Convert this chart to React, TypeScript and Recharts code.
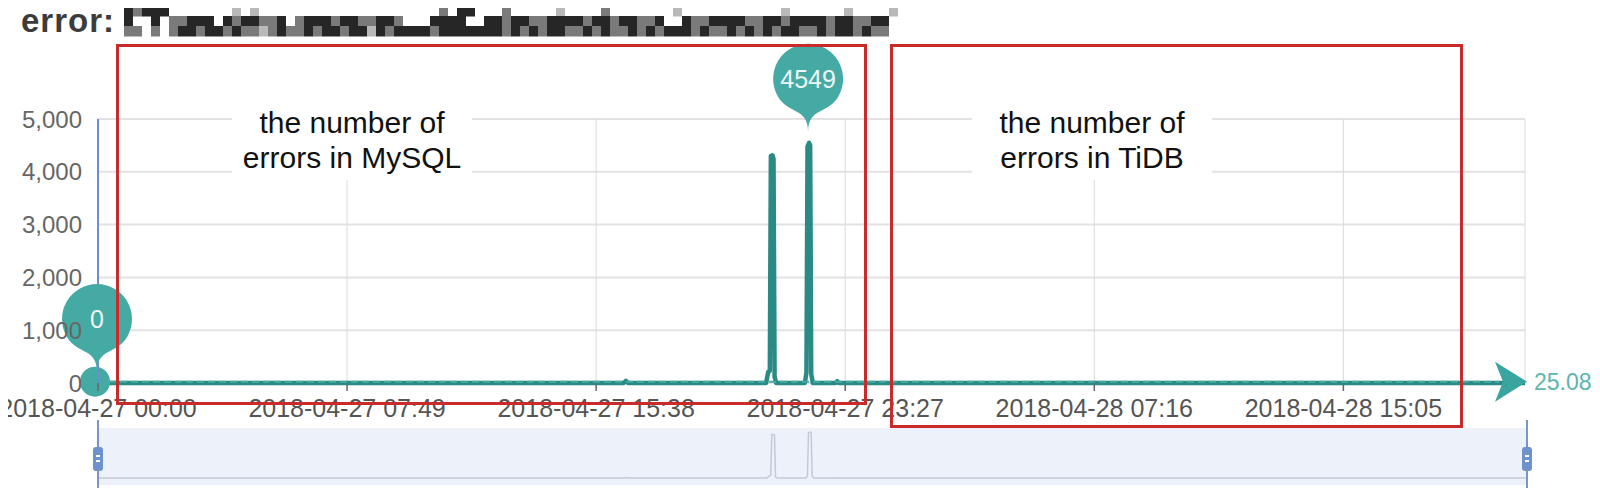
import React from 'react';
import { ComposedChart, LineChart, Line, XAxis, YAxis, CartesianGrid, ReferenceLine, ReferenceDot } from 'recharts';

// minutes after 2018-04-27 00:00
const errorTimes = [0, 180, 420, 700, 990, 994, 998, 1150, 1258, 1262, 1265, 1267, 1270, 1272, 1274, 1277, 1331, 1334, 1336, 1339, 1341, 1343, 1346, 1389, 1392, 1395, 1500, 1800, 2100, 2400, 2687];
const errorCounts = [0, 0, 0, 0, 0, 40, 0, 0, 0, 210, 230, 4300, 4310, 4250, 120, 0, 0, 200, 4480, 4549, 4500, 170, 0, 0, 35, 0, 0, 0, 0, 0, 0];

const xTicks = [0, 469, 938, 1407, 1876, 2345];
const xTickLabels = ['2018-04-27 00:00', '2018-04-27 07:49', '2018-04-27 15:38', '2018-04-27 23:27', '2018-04-28 07:16', '2018-04-28 15:05'];
const yTicks = [0, 1000, 2000, 3000, 4000, 5000];
const avgErrors = 25.08;
const timeEnd = 2687;

const data = errorTimes.map((t, i) => ({ t, errors: errorCounts[i] }));

const FONT = '"Liberation Sans", Arial, sans-serif';
const TEAL = '#45aaa4';

// redacted part of the title, drawn as mosaic (0 empty .. 3 dark)
const mosaicTop = '32333000000010100000000000000000000203300020000010000200000001000000000001000000100001';
const mosaicMid = '30030223330323322302333233223320003333003323322333323323322300322333322332333323322330';
const mosaicBot = '22020233233232212322323323313233332333333323232332232322323233323223232323322323323220';
const shades = ['none', '#b9b9b9', '#7a7a7a', '#262626'];

const maxIdx = errorCounts.indexOf(Math.max(...errorCounts));
const minIdx = errorCounts.indexOf(Math.min(...errorCounts));

// echarts-like pin, tip at (x, ty)
const pinPath = (x: number, ty: number) => {
  const r = 35, h = 105.4;
  const dy = (r * r) / (h - r);
  const cy = ty - h + r + dy;
  const a = Math.asin(dy / r);
  const dx = Math.cos(a) * r;
  const tx = Math.sin(a), tyy = Math.cos(a);
  const c1 = r * 0.6, c2 = r * 0.7;
  return {
    d: `M${x - dx},${cy + dy} A${r},${r} 0 1 1 ${x + dx},${cy + dy} ` +
      `C${x + dx - tx * c1},${cy + dy + tyy * c1} ${x},${ty - c2} ${x},${ty} ` +
      `C${x},${ty - c2} ${x - dx + tx * c1},${cy + dy + tyy * c1} ${x - dx},${cy + dy} Z`,
    cy,
  };
};

const pinShape = (label: string) => (p: any) => {
  const { d, cy } = pinPath(p.cx - 1, p.cy - 11);
  return (
    <g>
      <path d={d} fill={TEAL} />
      <text x={p.cx - 1} y={cy} textAnchor="middle" dominantBaseline="central" fill="#eef8f7" fontSize={25} fontFamily={FONT}>{label}</text>
    </g>
  );
};

const avgLineShape = (p: any) => {
  const { x1, y1, x2 } = p;
  return (
    <g>
      <line x1={x1} y1={y1} x2={x2 - 26} y2={y1} stroke={TEAL} strokeWidth={2} strokeDasharray="7 4" />
      <circle cx={x1 - 3} cy={y1} r={15} fill={TEAL} />
      <polygon points={`${x2 + 2},${y1} ${x2 - 30},${y1 - 20} ${x2 - 22},${y1} ${x2 - 30},${y1 + 20}`} fill="#3aa59f" />
      <text x={x2 + 9} y={y1} dominantBaseline="central" fill="#5db5af" fontSize={23} fontFamily={FONT}>{avgErrors}</text>
    </g>
  );
};

const Note = ({ left, lines }: { left: number; lines: string[] }) => (
  <div style={{ position: 'absolute', left, top: 100, width: 240, height: 80, background: '#fff', display: 'flex', flexDirection: 'column', alignItems: 'center', justifyContent: 'center', fontFamily: FONT, fontSize: 30, lineHeight: '35px', color: '#111' }}>
    {lines.map((l) => <div key={l}>{l}</div>)}
  </div>
);

const Handle = ({ left }: { left: number }) => (
  <>
    <div style={{ position: 'absolute', left: left - 1, top: 420, width: 2, height: 72, background: '#7896c8' }} />
    <div style={{ position: 'absolute', left: left - 5, top: 447, width: 10, height: 24, borderRadius: 3, background: '#6e92cc' }}>
      <div style={{ position: 'absolute', left: 3, top: 8, width: 4, height: 2, background: '#fff' }} />
      <div style={{ position: 'absolute', left: 3, top: 13, width: 4, height: 2, background: '#fff' }} />
    </div>
  </>
);

export default function App() {
  return (
    <div style={{ position: 'relative', width: 1600, height: 496, margin: -8, background: '#fff', overflow: 'hidden' }}>
      <div style={{ position: 'absolute', left: 0, top: 0 }}>
        <ComposedChart width={1600} height={496} data={data} margin={{ top: 119, right: 75, bottom: 83, left: 38 }}>
          <CartesianGrid
            horizontal={(p: any) => <line key={p.key} x1={p.x1} y1={p.y1} x2={p.x2} y2={p.y2} stroke="#e2e2e2" strokeWidth={2} />}
            vertical={(p: any) => <line key={p.key} x1={p.x1} y1={p.y1} x2={p.x2} y2={p.y2} stroke="#dadada" strokeWidth={1} />}
          />
          <XAxis type="number" dataKey="t" domain={[0, timeEnd]} ticks={xTicks} interval={0}
            tickFormatter={(v: number) => xTickLabels[xTicks.indexOf(v)]}
            axisLine={false} tickSize={8} tickMargin={8} tickLine={{ stroke: '#666', strokeWidth: 1.5 }}
            tick={{ fill: '#555', fontSize: 25, fontFamily: FONT }} height={30} />
          <YAxis type="number" domain={[0, 5000]} ticks={yTicks} interval={0} width={60}
            tickFormatter={(v: number) => v.toLocaleString('en-US')}
            axisLine={{ stroke: '#6a8fcb', strokeWidth: 2 }} tickLine={false} tickSize={0} tickMargin={16}
            tick={{ fill: '#666', fontSize: 24, fontFamily: FONT }} />
          <Line type="linear" dataKey="errors" stroke="#2a8a85" strokeWidth={4.5} strokeLinejoin="round" dot={false} isAnimationActive={false} />
          <ReferenceLine y={avgErrors} shape={avgLineShape} />
          <ReferenceDot x={errorTimes[minIdx]} y={errorCounts[minIdx]} ifOverflow="visible" shape={pinShape(String(errorCounts[minIdx]))} />
          <ReferenceDot x={errorTimes[maxIdx]} y={errorCounts[maxIdx]} ifOverflow="visible" shape={pinShape(String(errorCounts[maxIdx]))} />
        </ComposedChart>
      </div>

      {/* data zoom slider */}
      <div style={{ position: 'absolute', left: 98, top: 428, width: 1429, height: 57, background: '#edf2fa' }} />
      <div style={{ position: 'absolute', left: 0, top: 428 }}>
        <LineChart width={1600} height={57} data={data} margin={{ top: 4, right: 73, bottom: 7, left: 98 }}>
          <XAxis type="number" dataKey="t" domain={[0, timeEnd]} hide />
          <YAxis domain={[0, 4549]} hide />
          <Line type="linear" dataKey="errors" stroke="#c3cad6" strokeWidth={1.5} dot={false} isAnimationActive={false} />
        </LineChart>
      </div>
      <Handle left={98} />
      <Handle left={1527} />

      {/* title */}
      <div style={{ position: 'absolute', left: 21, top: 2, fontFamily: FONT, fontSize: 33, fontWeight: 'bold', letterSpacing: 1, color: '#3c3c3c' }}>error:</div>
      <svg style={{ position: 'absolute', left: 124, top: 6 }} width={780} height={31}>
        {[mosaicTop, mosaicMid, mosaicBot].map((row, ri) =>
          row.split('').map((c, ci) => (c === '0' ? null : (
            <rect key={`${ri}-${ci}`} x={ci * 9} y={ri * 10} width={9} height={10.5} fill={shades[+c]} />
          ))))}
      </svg>

      <Note left={232} lines={['the number of', 'errors in MySQL']} />
      <Note left={972} lines={['the number of', 'errors in TiDB']} />

      <div style={{ position: 'absolute', left: 116, top: 44, width: 745, height: 355, border: '3px solid #c92a2a' }} />
      <div style={{ position: 'absolute', left: 890, top: 44, width: 567, height: 378, border: '3px solid #c92a2a' }} />
    </div>
  );
}
